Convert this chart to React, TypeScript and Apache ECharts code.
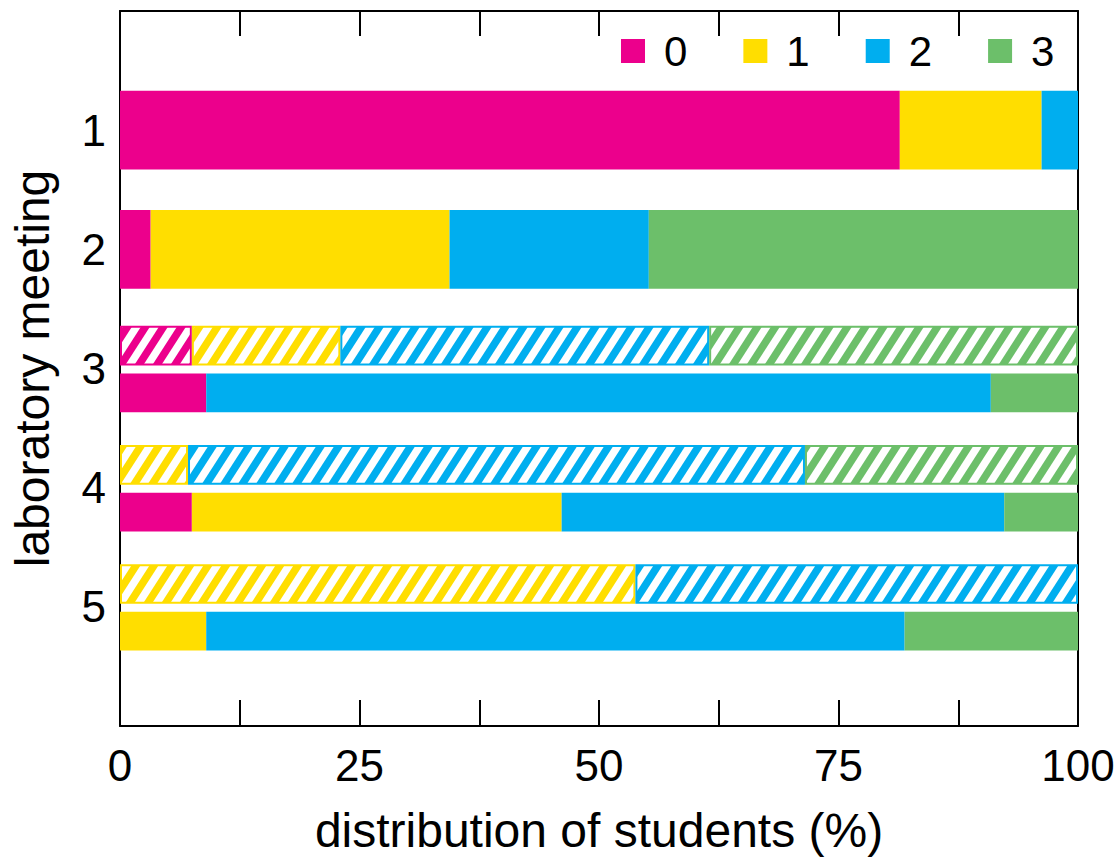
import React, { useEffect, useRef } from "react";
import * as echarts from "echarts";

const meetings = [1, 2, 3, 4, 5];
const scoreLabels = ["0", "1", "2", "3"];
const scoreColors = ["#EC008C", "#FFDE00", "#00AEEF", "#6CBF6A"];

// solid bars (% of students per score)
const solid0 = [81.4, 3.2, 9.0, 7.5, 0];
const solid1 = [14.8, 31.2, 0, 38.6, 9.0];
const solid2 = [3.8, 20.8, 81.9, 46.2, 72.9];
const solid3 = [0, 44.8, 9.1, 7.7, 18.1];
// hatched bars (only meetings 3-5)
const hatched0 = [null, null, 7.5, 0, 0];
const hatched1 = [null, null, 15.5, 7.1, 53.8];
const hatched2 = [null, null, 38.5, 64.4, 46.2];
const hatched3 = [null, null, 38.5, 28.5, 0];

const xTicks = [0, 25, 50, 75, 100];

const solidSets = [solid0, solid1, solid2, solid3];
const hatchedSets = [hatched0, hatched1, hatched2, hatched3];

const PW = 18;
const PH = 28;
const stripeUrl = (c: string) =>
  "data:image/svg+xml;utf8," +
  encodeURIComponent(
    `<svg xmlns="http://www.w3.org/2000/svg" width="${PW}" height="${PH}"><rect width="${PW}" height="${PH}" fill="${c}"/><polygon points="0,${PH} ${PW / 2},${PH} ${PW * 1.5},0 ${PW},0" fill="#ffffff"/><polygon points="${-PW},${PH} ${-PW / 2},${PH} ${PW / 2},0 0,0" fill="#ffffff"/></svg>`
  );

function buildData(k: number) {
  const out: any[] = [];
  meetings.forEach((m, i) => {
    const paired = hatchedSets[0][i] != null ? 1 : 0;
    let s = 0;
    for (let j = 0; j < k; j++) s += solidSets[j][i] as number;
    out.push([s, s + (solidSets[k][i] as number), m, 0, paired]);
    if (paired) {
      let h = 0;
      for (let j = 0; j < k; j++) h += hatchedSets[j][i] as number;
      out.push([h, h + (hatchedSets[k][i] as number), m, 1, 1]);
    }
  });
  return out;
}

export default function App() {
  const ref = useRef<HTMLDivElement>(null);
  useEffect(() => {
    if (!ref.current) return;
    const chart = echarts.init(ref.current, null, { renderer: "svg" });
    const font = "'Liberation Sans', Arial, Helvetica, sans-serif";
    const series = scoreLabels.map((name, k) => {
      const color = scoreColors[k];
      const pattern = {
        image: stripeUrl(color),
        repeat: "repeat",
        imageWidth: PW,
        imageHeight: PH,
      };
      return {
        type: "custom",
        name,
        itemStyle: { color },
        encode: { x: [0, 1], y: 2 },
        data: buildData(k),
        renderItem: (params: any, api: any) => {
          const s = api.value(0);
          const e = api.value(1);
          const m = api.value(2);
          const kind = api.value(3);
          const paired = api.value(4);
          if (e - s <= 0) return null;
          const p0 = api.coord([s, m]);
          const p1 = api.coord([e, m]);
          const unit = api.size([0, 1])[1];
          const c = p0[1];
          let y0: number, h: number;
          if (!paired) {
            y0 = c - 0.33 * unit;
            h = 0.66 * unit;
          } else if (kind === 1) {
            y0 = c - 0.358 * unit;
            h = 0.333 * unit;
          } else {
            y0 = c + 0.042 * unit;
            h = 0.325 * unit;
          }
          if (kind === 1) {
            return {
              type: "rect",
              shape: { x: p0[0] + 1, y: y0 + 1, width: p1[0] - p0[0] - 2, height: h - 2 },
              style: { fill: pattern, stroke: color, lineWidth: 2 },
            };
          }
          return {
            type: "rect",
            shape: { x: p0[0], y: y0, width: p1[0] - p0[0], height: h },
            style: { fill: color },
          };
        },
      };
    });

    const line = { show: true, onZero: false, lineStyle: { color: "#000", width: 2 } };

    chart.setOption({
      animation: false,
      textStyle: { fontFamily: font },
      grid: { left: 119, right: 42, top: 11, bottom: 128 },
      legend: {
        data: scoreLabels,
        left: 616,
        top: 25,
        icon: "rect",
        itemWidth: 24,
        itemHeight: 24,
        itemGap: 56,
        selectedMode: false,
        textStyle: { fontSize: 42, color: "#000", fontFamily: font, padding: [0, 0, 0, 14] },
      },
      xAxis: [
        {
          type: "value",
          min: 0,
          max: 100,
          interval: 12.5,
          position: "bottom",
          name: "distribution of students (%)",
          nameLocation: "middle",
          nameGap: 80,
          nameTextStyle: { fontSize: 48, color: "#000", fontFamily: font },
          axisLine: line,
          axisTick: { show: true, inside: true, length: 26, lineStyle: { color: "#000", width: 2 } },
          axisLabel: {
            fontSize: 44,
            color: "#000",
            margin: 17,
            fontFamily: font,
            formatter: (v: number) => (xTicks.indexOf(v) >= 0 ? String(v) : ""),
          },
          splitLine: { show: false },
        },
        {
          type: "value",
          min: 0,
          max: 100,
          interval: 12.5,
          position: "top",
          axisLine: line,
          axisTick: { show: true, inside: true, length: 25, lineStyle: { color: "#000", width: 2 } },
          axisLabel: { show: false },
          splitLine: { show: false },
        },
      ],
      yAxis: [
        {
          type: "value",
          min: 0,
          max: 6,
          interval: 1,
          inverse: true,
          position: "left",
          name: "laboratory meeting",
          nameLocation: "middle",
          nameGap: 64,
          nameTextStyle: { fontSize: 48, color: "#000", fontFamily: font },
          axisLine: line,
          axisTick: { show: false },
          axisLabel: {
            fontSize: 44,
            color: "#000",
            margin: 14,
            fontFamily: font,
            formatter: (v: number) => (meetings.indexOf(v) >= 0 ? String(v) : ""),
          },
          splitLine: { show: false },
        },
        {
          type: "value",
          min: 0,
          max: 6,
          interval: 1,
          inverse: true,
          position: "right",
          axisLine: line,
          axisTick: { show: false },
          axisLabel: { show: false },
          splitLine: { show: false },
        },
      ],
      series,
    });
    return () => chart.dispose();
  }, []);
  return (
    <div
      ref={ref}
      style={{ position: "absolute", left: 0, top: 0, width: 1120, height: 859, background: "#fff" }}
    />
  );
}
